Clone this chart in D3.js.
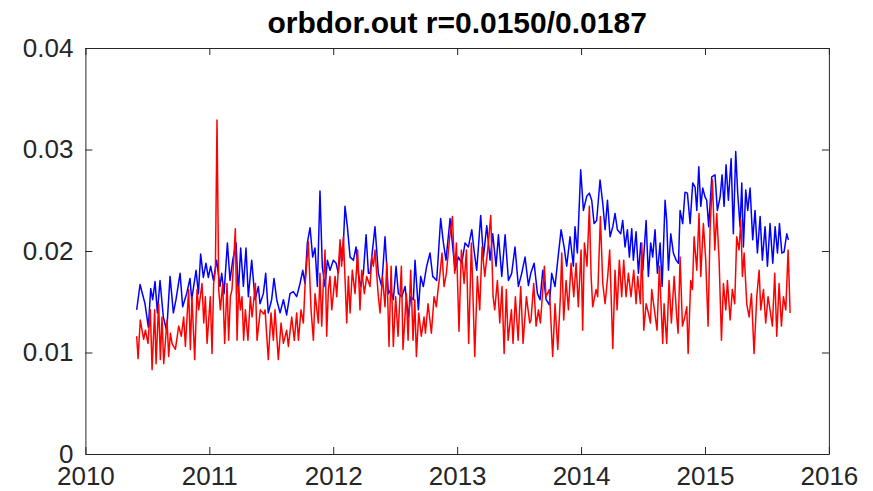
<!DOCTYPE html>
<html>
<head>
<meta charset="utf-8">
<script src="https://cdn.jsdelivr.net/npm/d3@7"></script>
<style>
  html, body { margin: 0; padding: 0; background: #fff; }
  svg { display: block; }
</style>
</head>
<body>
<svg id="chart" width="873" height="491"></svg>
<script>
// ---------- DATA ----------
const titleText = "orbdor.out r=0.0150/0.0187";
const xTicks = [2010, 2011, 2012, 2013, 2014, 2015, 2016];
const yTicks = [0, 0.01, 0.02, 0.03, 0.04];

// blue series: [decimal year, value]
const blueSeries = [
[2010.414,.0142],[2010.441,.0167],[2010.481,.0148],[2010.508,.0125],[2010.527,.0163],[2010.543,.0152],
[2010.562,.0170],[2010.581,.0139],[2010.602,.0171],[2010.629,.0135],[2010.656,.0121],[2010.683,.0175],
[2010.710,.0139],[2010.731,.0152],[2010.764,.0178],[2010.785,.0145],[2010.817,.0158],[2010.844,.0173],
[2010.858,.0152],[2010.893,.0181],[2010.912,.0158],[2010.930,.0197],[2010.952,.0174],[2010.973,.0188],
[2010.992,.0174],[2011.011,.0185],[2011.033,.0171],[2011.059,.0191],[2011.086,.0165],[2011.100,.0178],
[2011.119,.0158],[2011.146,.0208],[2011.167,.0171],[2011.189,.0191],[2011.216,.0208],[2011.234,.0158],
[2011.253,.0203],[2011.275,.0165],[2011.296,.0203],[2011.315,.0155],[2011.342,.0191],[2011.369,.0152],
[2011.396,.0165],[2011.409,.0148],[2011.436,.0158],[2011.455,.0178],[2011.476,.0139],[2011.503,.0152],
[2011.522,.0173],[2011.544,.0152],[2011.571,.0139],[2011.598,.0152],[2011.624,.0137],[2011.651,.0158],
[2011.678,.0160],[2011.705,.0155],[2011.732,.0168],[2011.754,.0181],[2011.772,.0168],[2011.791,.0208],
[2011.813,.0223],[2011.834,.0194],[2011.853,.0203],[2011.872,.0165],[2011.893,.0259],[2011.912,.0184],
[2011.934,.0165],[2011.953,.0191],[2011.974,.0181],[2012.001,.0191],[2012.023,.0188],[2012.041,.0178],
[2012.060,.0204],[2012.076,.0191],[2012.095,.0244],[2012.114,.0224],[2012.136,.0194],[2012.163,.0191],
[2012.184,.0204],[2012.203,.0178],[2012.222,.0165],[2012.243,.0178],[2012.265,.0216],[2012.284,.0178],
[2012.297,.0178],[2012.337,.0224],[2012.364,.0178],[2012.391,.0165],[2012.418,.0214],[2012.445,.0158],
[2012.464,.0162],[2012.485,.0152],[2012.507,.0185],[2012.526,.0158],[2012.553,.0155],[2012.580,.0165],
[2012.606,.0135],[2012.625,.0155],[2012.647,.0152],[2012.660,.0191],[2012.687,.0142],[2012.706,.0175],
[2012.727,.0165],[2012.754,.0185],[2012.781,.0198],[2012.803,.0175],[2012.835,.0171],[2012.867,.0232],
[2012.889,.0208],[2012.910,.0191],[2012.943,.0232],[2012.964,.0204],[2012.983,.0181],[2013.010,.0194],
[2013.037,.0188],[2013.064,.0208],[2013.091,.0204],[2013.118,.0221],[2013.136,.0201],[2013.158,.0181],
[2013.190,.0235],[2013.212,.0194],[2013.239,.0225],[2013.266,.0191],[2013.287,.0217],[2013.314,.0185],
[2013.333,.0216],[2013.360,.0175],[2013.387,.0216],[2013.414,.0171],[2013.440,.0178],[2013.467,.0204],
[2013.494,.0165],[2013.521,.0178],[2013.548,.0194],[2013.575,.0166],[2013.594,.0178],[2013.621,.0188],
[2013.648,.0158],[2013.669,.0152],[2013.691,.0181],[2013.718,.0152],[2013.744,.0147],[2013.763,.0178],
[2013.790,.0165],[2013.812,.0191],[2013.839,.0221],[2013.863,.0204],[2013.884,.0185],[2013.911,.0214],
[2013.938,.0185],[2013.951,.0224],[2013.970,.0198],[2013.997,.0280],[2014.019,.0240],[2014.046,.0254],
[2014.067,.0257],[2014.086,.0250],[2014.105,.0227],[2014.126,.0230],[2014.153,.0270],[2014.175,.0247],
[2014.194,.0221],[2014.213,.0250],[2014.234,.0214],[2014.256,.0224],[2014.274,.0237],[2014.293,.0221],
[2014.320,.0217],[2014.336,.0230],[2014.355,.0204],[2014.374,.0221],[2014.390,.0194],[2014.409,.0222],
[2014.422,.0191],[2014.444,.0219],[2014.463,.0178],[2014.482,.0208],[2014.498,.0181],[2014.525,.0230],
[2014.543,.0175],[2014.562,.0208],[2014.578,.0194],[2014.597,.0221],[2014.616,.0178],[2014.638,.0208],
[2014.654,.0165],[2014.678,.0250],[2014.691,.0230],[2014.705,.0181],[2014.724,.0217],[2014.745,.0198],
[2014.767,.0191],[2014.786,.0188],[2014.799,.0240],[2014.820,.0227],[2014.839,.0258],[2014.858,.0257],
[2014.880,.0227],[2014.901,.0267],[2014.920,.0263],[2014.934,.0240],[2014.950,.0283],[2014.966,.0244],
[2014.982,.0262],[2015.001,.0253],[2015.014,.0250],[2015.030,.0224],[2015.055,.0273],[2015.081,.0275],
[2015.100,.0240],[2015.122,.0253],[2015.138,.0275],[2015.154,.0244],[2015.170,.0285],[2015.189,.0250],
[2015.211,.0291],[2015.229,.0217],[2015.248,.0298],[2015.264,.0257],[2015.283,.0224],[2015.297,.0267],
[2015.310,.0204],[2015.329,.0260],[2015.345,.0240],[2015.364,.0262],[2015.385,.0211],[2015.404,.0240],
[2015.423,.0198],[2015.445,.0234],[2015.463,.0191],[2015.485,.0224],[2015.504,.0185],[2015.525,.0227],
[2015.547,.0188],[2015.566,.0224],[2015.585,.0198],[2015.601,.0227],[2015.620,.0198],[2015.638,.0199],
[2015.660,.0217],[2015.673,.0211]
];

// red series: [decimal year, value]
const redSeries = [
[2010.414,.0116],[2010.425,.0094],[2010.443,.0132],[2010.470,.0113],[2010.484,.0122],[2010.505,.0109],
[2010.524,.0142],[2010.538,.0083],[2010.559,.0142],[2010.570,.0089],[2010.591,.0148],[2010.605,.0093],
[2010.618,.0135],[2010.632,.0089],[2010.659,.0132],[2010.672,.0096],[2010.686,.0119],[2010.699,.0109],
[2010.712,.0106],[2010.726,.0103],[2010.753,.0126],[2010.774,.0116],[2010.793,.0135],[2010.807,.0106],
[2010.833,.0162],[2010.847,.0103],[2010.860,.0155],[2010.882,.0093],[2010.901,.0162],[2010.914,.0142],
[2010.941,.0168],[2010.955,.0129],[2010.968,.0155],[2010.982,.0109],[2011.008,.0155],[2011.022,.0099],
[2011.035,.0168],[2011.049,.0181],[2011.062,.0329],[2011.076,.0162],[2011.089,.0142],[2011.108,.0168],
[2011.124,.0109],[2011.143,.0168],[2011.156,.0112],[2011.170,.0155],[2011.183,.0162],[2011.197,.0191],
[2011.210,.0222],[2011.224,.0112],[2011.237,.0165],[2011.251,.0142],[2011.264,.0155],[2011.277,.0112],
[2011.291,.0142],[2011.312,.0112],[2011.331,.0155],[2011.345,.0135],[2011.372,.0168],[2011.385,.0112],
[2011.412,.0142],[2011.439,.0138],
[2011.450,.0142],[2011.476,.0093],[2011.498,.0139],[2011.517,.0112],[2011.530,.0142],[2011.557,.0093],
[2011.579,.0129],[2011.598,.0109],[2011.624,.0122],[2011.638,.0106],[2011.665,.0135],[2011.686,.0112],
[2011.705,.0139],[2011.719,.0112],[2011.740,.0142],[2011.759,.0129],[2011.772,.0165],[2011.799,.0209],
[2011.821,.0142],[2011.840,.0112],[2011.853,.0158],[2011.880,.0129],[2011.893,.0178],[2011.907,.0126],
[2011.920,.0168],[2011.934,.0201],[2011.947,.0116],[2011.961,.0162],[2011.974,.0175],[2011.988,.0142],
[2012.015,.0175],[2012.028,.0155],[2012.055,.0211],[2012.068,.0185],[2012.082,.0214],[2012.109,.0129],
[2012.122,.0175],[2012.136,.0139],[2012.154,.0181],[2012.176,.0158],[2012.197,.0201],[2012.216,.0142],
[2012.230,.0181],[2012.251,.0158],[2012.270,.0175],[2012.297,.0165],[2012.311,.0194],[2012.324,.0185],
[2012.337,.0201],[2012.364,.0155],[2012.378,.0139],[2012.397,.0175],[2012.418,.0145],[2012.432,.0188],
[2012.450,.0106],[2012.467,.0185],[2012.485,.0106],[2012.504,.0155],
[2012.523,.0116],[2012.550,.0185],[2012.563,.0103],[2012.590,.0158],[2012.604,.0112],[2012.625,.0181],
[2012.644,.0112],[2012.658,.0152],[2012.671,.0096],[2012.690,.0139],[2012.711,.0116],[2012.733,.0135],
[2012.744,.0119],[2012.765,.0148],[2012.792,.0119],[2012.814,.0155],[2012.832,.0145],[2012.846,.0162],
[2012.859,.0175],[2012.878,.0198],[2012.894,.0165],[2012.913,.0178],[2012.940,.0214],[2012.962,.0234],
[2012.980,.0178],[2012.994,.0208],[2013.015,.0121],[2013.034,.0201],[2013.056,.0168],[2013.075,.0201],
[2013.093,.0109],[2013.115,.0208],[2013.142,.0096],[2013.163,.0175],[2013.182,.0142],[2013.201,.0204],
[2013.223,.0175],[2013.249,.0204],[2013.271,.0235],[2013.290,.0155],[2013.303,.0142],[2013.325,.0171],
[2013.344,.0129],[2013.362,.0165],[2013.379,.0099],[2013.397,.0162],[2013.411,.0112],[2013.438,.0142],
[2013.451,.0109],[2013.470,.0155],[2013.492,.0112],[2013.513,.0165],[2013.532,.0109],[2013.559,.0155],
[2013.586,.0129],
[2013.596,.0132],[2013.618,.0168],[2013.637,.0126],[2013.656,.0142],[2013.672,.0129],[2013.691,.0162],
[2013.704,.0185],[2013.717,.0155],[2013.744,.0162],[2013.771,.0096],[2013.790,.0148],[2013.812,.0103],
[2013.833,.0155],[2013.844,.0198],[2013.860,.0132],[2013.879,.0171],[2013.898,.0142],[2013.919,.0188],
[2013.941,.0155],[2013.960,.0188],[2013.978,.0145],[2014.000,.0201],[2014.013,.0122],[2014.027,.0208],
[2014.048,.0185],[2014.067,.0244],[2014.081,.0175],[2014.094,.0145],[2014.121,.0162],[2014.134,.0155],
[2014.156,.0234],[2014.175,.0168],[2014.194,.0148],[2014.215,.0175],[2014.231,.0201],[2014.256,.0104],
[2014.274,.0181],[2014.291,.0142],[2014.309,.0191],[2014.328,.0155],[2014.344,.0191],[2014.363,.0155],
[2014.382,.0178],[2014.403,.0155],[2014.425,.0181],[2014.444,.0148],[2014.457,.0175],[2014.479,.0148],
[2014.490,.0208],[2014.506,.0122],[2014.525,.0148],[2014.543,.0139],[2014.560,.0129],[2014.570,.0162],
[2014.592,.0142],[2014.613,.0122],[2014.632,.0185],[2014.659,.0109],
[2014.670,.0148],[2014.691,.0109],[2014.710,.0171],[2014.729,.0129],[2014.751,.0175],[2014.772,.0135],
[2014.783,.0119],[2014.799,.0194],[2014.818,.0126],[2014.837,.0135],[2014.853,.0145],[2014.864,.0099],
[2014.885,.0171],[2014.899,.0162],[2014.912,.0214],[2014.934,.0181],[2014.952,.0237],[2014.966,.0175],
[2014.987,.0227],[2015.006,.0191],[2015.025,.0126],[2015.041,.0221],[2015.060,.0270],[2015.079,.0201],
[2015.095,.0237],[2015.114,.0191],[2015.133,.0112],[2015.149,.0168],[2015.168,.0142],[2015.181,.0171],
[2015.203,.0132],[2015.221,.0162],[2015.240,.0148],[2015.256,.0214],[2015.275,.0201],[2015.289,.0231],
[2015.302,.0175],[2015.316,.0198],[2015.337,.0148],[2015.356,.0135],[2015.375,.0158],[2015.396,.0099],
[2015.418,.0155],[2015.437,.0181],[2015.450,.0142],[2015.472,.0162],[2015.490,.0129],[2015.509,.0155],
[2015.525,.0142],[2015.544,.0126],[2015.563,.0178],[2015.579,.0116],[2015.598,.0168],[2015.617,.0126],
[2015.633,.0155],[2015.652,.0142],[2015.671,.0201],[2015.687,.0139]
];

// ---------- CHART ----------
const W = 873, H = 491;
const mLeft = 85.4, mRight = 828.9, mTop = 48, mBottom = 454;
const axisColor = "#262626";
const font = "'Liberation Sans', Arial, Helvetica, sans-serif";

const svg = d3.select("#chart");
svg.append("rect").attr("width", W).attr("height", H).attr("fill", "#fff");

const x = d3.scaleLinear().domain([2010, 2016]).range([mLeft, mRight]);
const y = d3.scaleLinear().domain([0, 0.04]).range([mBottom, mTop]);

const line = d3.line().x(d => x(d[0])).y(d => y(d[1]));

const plot = svg.append("g");
plot.append("path").datum(blueSeries)
  .attr("d", line).attr("fill", "none").attr("stroke", "#0000ff")
  .attr("stroke-width", 1.5).attr("stroke-linejoin", "round");
plot.append("path").datum(redSeries)
  .attr("d", line).attr("fill", "none").attr("stroke", "#ff0000")
  .attr("stroke-width", 1.5).attr("stroke-linejoin", "round");

const yFmt = d => d === 0 ? "0" : d3.format(".2f")(d);

function styleAxis(g) {
  g.select(".domain").attr("stroke", axisColor).attr("stroke-width", 1).attr("fill", "none");
  g.selectAll(".tick line").attr("stroke", axisColor).attr("stroke-width", 1);
  g.selectAll(".tick text").attr("fill", axisColor)
    .style("font-family", font).style("font-size", "26px");
}

svg.append("g").attr("transform", `translate(0,${mBottom})`)
  .call(d3.axisBottom(x).tickValues(xTicks).tickFormat(d3.format("d"))
    .tickSizeInner(-7).tickSizeOuter(0).tickPadding(12.5))
  .call(styleAxis);

svg.append("g").attr("transform", `translate(0,${mTop})`)
  .call(d3.axisTop(x).tickValues(xTicks).tickFormat("")
    .tickSizeInner(-7).tickSizeOuter(0))
  .call(styleAxis);

const yAxisL = svg.append("g").attr("transform", `translate(${mLeft},0)`)
  .call(d3.axisLeft(y).tickValues(yTicks).tickFormat(yFmt)
    .tickSizeInner(-7).tickSizeOuter(0).tickPadding(12))
  .call(styleAxis);
yAxisL.selectAll(".tick text").attr("dy", null).attr("y", 8);

svg.append("g").attr("transform", `translate(${mRight},0)`)
  .call(d3.axisRight(y).tickValues(yTicks).tickFormat("")
    .tickSizeInner(-7).tickSizeOuter(0))
  .call(styleAxis);

svg.append("text")
  .attr("x", (mLeft + mRight) / 2).attr("y", 33)
  .attr("text-anchor", "middle")
  .style("font-family", font).style("font-size", "30px").style("font-weight", "bold")
  .attr("fill", "#000")
  .text(titleText);
</script>
</body>
</html>
